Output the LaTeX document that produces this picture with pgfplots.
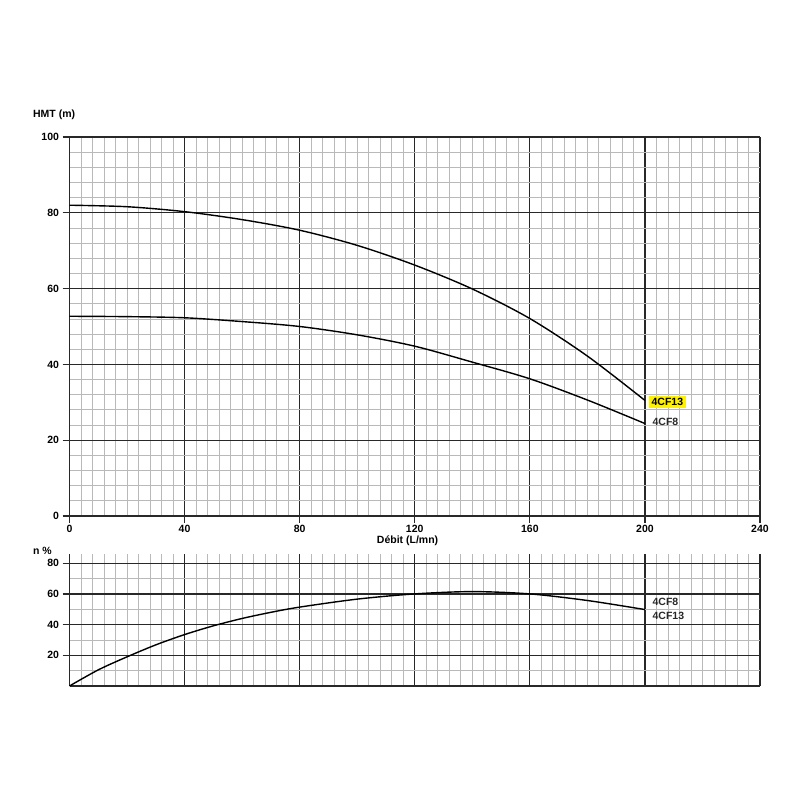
\documentclass[border=0pt]{standalone}
\usepackage{pgfplots}
\pgfplotsset{compat=1.18}
\usepackage{fontspec}
\setmainfont{Liberation Sans}
\definecolor{hl}{RGB}{255,242,0}
\definecolor{majg}{RGB}{40,40,40}
\definecolor{ming}{RGB}{185,185,185}
\begin{document}
\begin{tikzpicture}
\path[use as bounding box] (0pt,0pt) rectangle (800pt,800pt);
\pgfplotsset{
  mystyle/.style={
    scale only axis,
    width=690.5pt,
    xmin=0, xmax=240,
    axis x line=bottom, axis y line=left,
    axis line style={-, majg, line width=1.2pt},
    grid=both,
    major grid style={majg, line width=1.2pt},
    minor grid style={ming, line width=0.8pt},
    minor xtick={0,4,...,240},
    tick align=outside,
    major tick length=7pt,
    minor tick length=0pt,
    tick style={majg, line width=1.2pt},
    /pgf/number format/assume math mode=true,
    tick label style={font=\fontsize{10.5}{12}\selectfont\bfseries},
    xticklabel style={yshift=1.5pt},
    clip=false,
  }
}
% ---------------- top chart ----------------
\begin{axis}[mystyle,
  at={(69.5pt,284pt)}, anchor=south west,
  height=379pt,
  ymin=0, ymax=100,
  xtick={0,40,...,240},
  ytick={0,20,...,100},
  minor ytick={0,4,...,100},
]
\addplot[black, line width=1.4pt, smooth] coordinates {
(0,82.0)(20,81.6)(40,80.3)(60,78.2)(80,75.4)(100,71.4)(120,66.2)(140,59.9)(160,52.1)(180,42.2)(200,30.5)};
\addplot[black, line width=1.4pt, smooth] coordinates {
(0,52.7)(20,52.6)(40,52.3)(60,51.3)(80,50.0)(100,47.8)(120,44.8)(140,40.6)(160,36.2)(180,30.6)(200,24.4)};
\node[anchor=west, inner sep=0pt, font=\fontsize{10.5}{12}\selectfont\bfseries] at (axis cs:-12.7,105.8) {HMT (m)};
\node[anchor=center, inner sep=0pt, font=\fontsize{10.5}{12}\selectfont\bfseries] at (axis cs:117.5,-6.6) {Débit (L/mn)};
\node[anchor=west, fill=hl, inner xsep=2.5pt, inner ysep=2.5pt, font=\fontsize{10.5}{12}\selectfont\bfseries] at (axis cs:201.4,30.1) {4CF13};
\node[anchor=west, inner sep=0pt, font=\fontsize{10.5}{12}\selectfont\bfseries, majg] at (axis cs:202.6,24.8) {4CF8};
\end{axis}
% ---------------- bottom chart ----------------
\begin{axis}[mystyle,
  at={(69.5pt,114pt)}, anchor=south west,
  height=132pt,
  ymin=0, ymax=86,
  xtick={0,40,...,240},
  xticklabels={},
  x tick style={draw=none},
  ytick={20,40,60,80},
  minor ytick={10,30,50,70},
]
\addplot[black, line width=1.4pt, smooth] coordinates {
(0,0)(10,10.5)(20,19)(30,26.8)(40,33.5)(50,39.2)(60,44.0)(70,48.0)(80,51.4)(100,56.6)(120,60.0)(140,61.5)(160,60.0)(180,55.7)(200,49.8)};
\node[anchor=west, inner sep=0pt, font=\fontsize{10.5}{12}\selectfont\bfseries] at (axis cs:-12.7,88.3) {n \%};
\node[anchor=west, inner sep=0pt, font=\fontsize{10.5}{12}\selectfont\bfseries, majg] at (axis cs:202.6,54.5) {4CF8};
\node[anchor=west, inner sep=0pt, font=\fontsize{10.5}{12}\selectfont\bfseries, majg] at (axis cs:202.6,45.5) {4CF13};
\end{axis}
\end{tikzpicture}
\end{document}
